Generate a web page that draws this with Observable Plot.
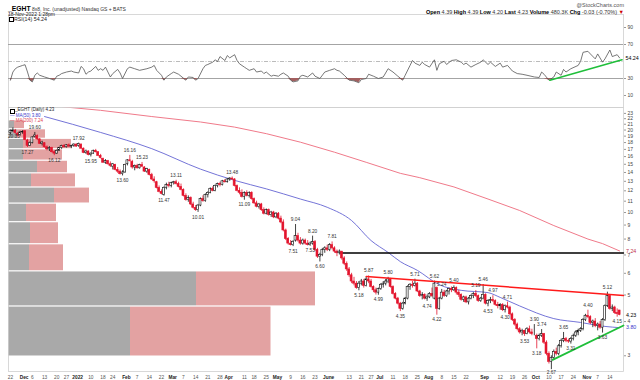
<!DOCTYPE html>
<html><head><meta charset="utf-8">
<script src="https://cdn.jsdelivr.net/npm/d3@7"></script>
<script src="https://cdn.jsdelivr.net/npm/@observablehq/plot@0.6"></script>
<style>
body{margin:0;background:#fff;font-family:"Liberation Sans",Arial,sans-serif;}
#wrap{position:relative;width:640px;height:380px;overflow:hidden;background:#fff;}
.abs{position:absolute;white-space:nowrap;line-height:1;}
.icon{position:absolute;width:3px;height:3.4px;border:0.6px solid #000;}
.layer{position:absolute;left:0;}
.layer svg{display:block;}
</style></head><body>
<div id="wrap">
  <div id="vbp" class="layer" style="top:100px"></div>
  <div id="price" class="layer" style="top:100px"></div>
  <div id="rsi" class="layer" style="top:14px"></div>
  <div class="abs" style="left:8px;top:5.5px;font-size:5px;color:#333"><b style="font-size:6.8px;color:#000">_EGHT</b> 8x8, Inc. (unadjusted) Nasdaq GS + BATS</div>
  <div class="abs" style="left:8px;top:11.5px;font-size:5px;color:#222">18-Nov-2022 1:28pm</div>
  <div class="icon" style="left:9px;top:17px"></div>
  <div class="abs" style="left:14px;top:16.5px;font-size:5.3px;color:#222">RSI(14) 54.24</div>
  <div class="abs" style="right:16px;top:2.5px;font-size:5.5px;color:#555">@StockCharts.com</div>
  <div class="abs" style="right:16px;top:9.5px;font-size:5.5px;color:#333"><b style="color:#000">Open</b> 4.39 <b style="color:#000">High</b> 4.39 <b style="color:#000">Low</b> 4.20 <b style="color:#000">Last</b> 4.23 <b style="color:#000">Volume</b> 480.3K <b style="color:#000">Chg</b> -0.03 (-0.70%) <span style="color:#c00">&#9660;</span></div>
  <div class="icon" style="left:10px;top:108.6px"></div>
  <div class="abs" style="left:15px;top:108.2px;font-size:4.5px;color:#222">_EGHT (Daily) 4.23</div>
  <div class="abs" style="left:10px;top:113.6px;font-size:4.5px;color:#3a3acc">&#8212; MA(50) 3.80</div>
  <div class="abs" style="left:10px;top:118.8px;font-size:4.5px;color:#e04050">&#8212; MA(200) 7.24</div>
</div>
<script>
// ---------- DATA ----------
const holidays = ["2021-11-25","2021-12-24","2022-01-17","2022-02-21","2022-04-15","2022-05-30","2022-06-20","2022-07-04","2022-09-05"];

const open = [
19.5,19.8,19.9,19.4,19.2,19.6,19.8,18.3,17.5,17.9,
18.9,19.0,18.5,17.8,17.9,17.3,17.0,17.2,16.6,16.4,
16.8,17.2,17.5,17.3,17.6,17.4,17.5,17.7,17.5,17.7,
17.1,16.5,16.7,16.2,16.4,16.8,16.6,16.1,15.7,15.2,
15.4,15.0,14.7,14.9,14.3,14.1,13.8,14.0,15.0,15.5,
15.3,14.6,14.8,14.5,14.9,14.6,14.1,14.3,13.7,13.2,
12.9,12.3,11.9,11.6,12.3,12.6,12.5,12.8,12.9,12.7,
12.4,12.1,11.5,11.1,11.3,10.7,10.4,10.2,10.6,11.2,
11.0,11.6,11.8,12.2,12.0,12.5,12.7,12.6,13.0,12.9,
13.2,13.3,13.2,12.5,12.0,11.8,11.4,11.8,11.5,11.8,
11.2,10.8,10.5,10.7,10.2,9.9,10.2,9.8,10.0,9.6,
9.9,9.5,9.2,8.6,8.0,7.7,7.6,7.9,8.2,7.9,
7.7,7.9,7.7,7.6,7.7,7.8,7.3,6.9,7.0,7.3,
7.4,7.3,7.6,7.4,7.2,7.1,7.2,6.8,6.5,6.2,
5.9,5.6,5.5,5.3,5.5,5.6,5.4,5.7,5.6,5.35,
5.2,5.1,5.25,5.45,5.5,5.6,5.7,5.35,5.05,4.85,
4.65,4.45,4.65,4.85,5.35,5.45,5.4,5.5,5.15,4.95,
5.0,4.85,4.9,5.05,4.85,5.3,4.45,4.85,5.1,4.95,
5.15,5.25,5.2,5.3,5.1,5.0,4.8,4.9,4.7,4.85,
4.95,5.05,4.95,4.75,4.85,5.0,4.65,4.75,4.8,4.75,
4.6,4.55,4.6,4.4,4.55,4.5,4.25,4.05,3.9,3.75,
3.65,3.7,3.6,3.75,3.65,3.6,3.55,3.45,3.55,3.6,
3.35,3.05,2.85,2.95,3.1,3.05,3.25,3.4,3.45,3.4,
3.38,3.45,3.55,3.65,3.7,3.75,4.05,4.2,4.15,3.95,
4.0,3.85,3.9,3.8,4.05,4.55,4.95,4.45,4.5,4.3,
4.39];
const high = [
20.0,20.35,20.1,19.6,19.8,19.9,19.9,18.5,18.1,18.9,
19.6,19.2,18.6,18.2,18.0,17.5,17.4,17.3,16.8,16.9,
17.3,17.6,17.7,17.7,17.8,17.6,17.8,17.8,17.92,17.8,
17.2,16.9,16.8,16.5,16.9,17.0,16.7,16.3,15.8,15.6,
15.5,15.3,15.1,15.0,14.6,14.3,14.2,15.0,15.6,16.16,
15.5,14.9,15.0,15.0,15.23,14.7,14.5,14.4,13.9,13.5,
13.0,12.5,12.1,12.4,12.8,12.9,12.9,13.0,13.11,12.9,
12.7,12.2,11.7,11.5,11.4,10.9,10.6,10.7,11.3,11.5,
11.7,11.9,12.3,12.4,12.6,12.8,12.9,13.1,13.2,13.3,
13.4,13.48,13.3,12.6,12.3,12.1,11.9,12.0,11.9,11.9,
11.3,11.0,10.8,10.8,10.4,10.3,10.3,10.1,10.1,10.0,
10.0,9.7,9.4,8.7,8.1,7.9,7.9,9.04,8.4,8.1,
8.0,8.0,7.9,7.8,8.2,7.9,7.4,7.1,7.4,7.5,
7.6,7.7,7.81,7.5,7.3,7.3,7.2,6.9,6.6,6.3,
6.0,5.8,5.6,5.6,5.7,5.7,5.8,5.87,5.7,5.4,
5.3,5.3,5.5,5.6,5.7,5.8,5.75,5.4,5.1,4.9,
4.7,4.7,4.9,5.4,5.5,5.6,5.71,5.55,5.2,5.1,
5.05,5.0,5.1,5.3,5.62,5.35,4.9,5.24,5.2,5.2,
5.3,5.35,5.4,5.35,5.2,5.05,4.95,4.95,4.9,5.0,
5.1,5.19,5.0,4.9,5.46,5.05,4.8,4.9,4.97,4.8,
4.7,4.65,4.65,4.6,4.71,4.55,4.3,4.1,3.95,3.8,
3.75,3.72,3.8,3.85,3.75,3.9,3.6,3.6,3.74,3.62,
3.4,3.1,3.0,3.15,3.2,3.3,3.45,3.65,3.5,3.45,
3.5,3.6,3.7,3.75,3.8,4.1,4.25,4.4,4.2,4.05,
4.1,3.95,4.0,4.1,4.6,5.12,5.0,4.6,4.55,4.45,
4.39];
const low = [
19.2,19.6,19.3,18.9,19.0,19.3,18.3,17.27,17.4,17.8,
18.7,18.3,17.7,17.5,17.2,16.8,16.7,16.5,16.12,16.3,
16.7,17.0,17.2,17.2,17.3,17.1,17.3,17.3,17.3,17.0,
16.4,16.3,16.1,15.95,16.3,16.5,16.0,15.7,15.1,15.0,
14.9,14.6,14.3,14.2,13.9,13.7,13.6,13.9,14.8,15.3,
14.4,14.2,14.4,14.4,14.6,14.0,13.9,13.6,13.1,12.8,
12.2,11.8,11.6,11.47,12.1,12.3,12.3,12.6,12.6,12.3,
12.0,11.4,11.0,10.9,10.6,10.3,10.1,10.01,10.5,10.9,
10.9,11.3,11.7,11.9,11.9,12.3,12.4,12.5,12.8,12.8,
13.0,13.1,12.4,11.9,11.6,11.3,11.09,11.4,11.3,11.1,
10.7,10.4,10.3,10.1,9.8,9.8,9.7,9.6,9.5,9.5,
9.4,9.1,8.5,7.9,7.6,7.55,7.51,7.8,7.8,7.6,
7.6,7.6,7.55,7.53,7.6,7.2,6.8,6.6,6.9,7.1,
7.2,7.2,7.3,7.1,6.9,7.0,6.7,6.4,6.1,5.8,
5.5,5.4,5.25,5.18,5.4,5.3,5.35,5.5,5.3,5.1,
5.0,4.99,5.2,5.3,5.4,5.5,5.3,5.0,4.8,4.6,
4.35,4.4,4.6,4.8,5.2,5.3,5.35,5.1,4.9,4.8,
4.8,4.74,4.85,4.9,4.8,4.22,4.4,4.8,4.9,4.9,
5.0,5.1,5.15,5.0,4.9,4.75,4.7,4.65,4.6,4.8,
4.85,4.9,4.7,4.7,4.8,4.6,4.53,4.65,4.7,4.55,
4.45,4.4,4.35,4.3,4.45,4.2,4.0,3.85,3.7,3.6,
3.55,3.53,3.58,3.6,3.55,3.55,3.18,3.4,3.5,3.3,
3.0,2.8,2.67,2.9,3.0,3.0,3.2,3.35,3.35,3.33,
3.31,3.4,3.5,3.55,3.65,3.7,4.0,4.1,3.9,3.8,
3.8,3.7,3.75,3.63,4.0,4.5,4.4,4.35,4.25,4.15,
4.2];
const close = [
19.8,19.9,19.5,19.1,19.6,19.7,18.4,17.5,17.9,18.8,
19.1,18.5,17.8,18.0,17.3,17.0,17.2,16.6,16.4,16.8,
17.2,17.5,17.3,17.6,17.4,17.5,17.7,17.4,17.8,17.1,
16.5,16.7,16.2,16.4,16.8,16.6,16.1,15.8,15.2,15.4,
15.0,14.8,15.0,14.3,14.1,13.8,14.0,14.9,15.5,15.4,
14.6,14.8,14.5,14.9,14.7,14.1,14.4,13.7,13.2,13.0,
12.3,11.9,11.7,12.3,12.6,12.5,12.8,12.9,12.7,12.4,
12.1,11.5,11.1,11.3,10.7,10.4,10.2,10.6,11.2,11.0,
11.6,11.8,12.2,12.0,12.5,12.7,12.6,13.0,12.9,13.2,
13.3,13.2,12.5,12.0,11.8,11.4,11.8,11.5,11.8,11.2,
10.8,10.5,10.7,10.2,9.9,10.2,9.8,10.0,9.6,9.9,
9.5,9.2,8.6,8.0,7.7,7.6,7.8,8.2,7.9,7.7,
7.9,7.7,7.6,7.7,7.8,7.3,6.9,7.0,7.3,7.4,
7.3,7.6,7.4,7.2,7.1,7.2,6.8,6.5,6.2,5.9,
5.6,5.5,5.3,5.5,5.6,5.4,5.7,5.6,5.35,5.2,
5.1,5.25,5.45,5.5,5.6,5.7,5.35,5.05,4.85,4.65,
4.45,4.65,4.85,5.35,5.45,5.4,5.5,5.15,4.95,5.0,
4.85,4.9,5.05,4.95,5.5,4.45,4.85,5.1,4.95,5.15,
5.25,5.2,5.3,5.1,5.0,4.8,4.9,4.7,4.85,4.95,
5.05,4.95,4.75,4.85,5.0,4.65,4.75,4.8,4.75,4.6,
4.55,4.6,4.4,4.55,4.5,4.25,4.05,3.9,3.75,3.65,
3.7,3.6,3.75,3.65,3.6,3.6,3.45,3.55,3.6,3.35,
3.05,2.85,2.95,3.1,3.05,3.25,3.4,3.45,3.4,3.38,
3.45,3.55,3.65,3.7,3.75,4.05,4.2,4.15,3.95,4.0,
3.85,3.9,3.8,4.05,4.55,4.95,4.45,4.5,4.3,4.26,
4.23];

// swing labels (trading-day index, price)
const hiDay = [1,10,28,49,54,68,91,117,124,132,147,155,166,174,177,182,191,194,198,204,215,218,227,237,245];
const hiVal = [20.35,19.60,17.92,16.16,15.23,13.11,13.48,9.04,8.20,7.81,5.87,5.80,5.71,5.62,5.24,5.40,5.19,5.46,4.97,4.71,3.90,3.74,3.65,4.40,5.12];
const loDay = [7,18,33,46,63,77,96,116,123,127,143,151,160,171,175,196,203,211,216,222,230,243,249];
const loVal = [17.27,16.12,15.95,13.60,11.47,10.01,11.09,7.51,7.53,6.60,5.18,4.99,4.35,4.74,4.22,4.53,4.30,3.53,3.18,2.67,3.31,3.63,4.15];

// moving averages
const ma50Day = [14,37,58,78,92,105,119,130,140,148,155,160,167,176,185,196,201,209,223,234,244,250];
const ma50Val = [22.4,19.6,17.1,14.4,13.1,12.2,11.2,10.45,9.35,7.9,7.15,6.62,6.15,5.45,5.2,5.1,4.9,4.56,4.1,3.97,3.84,3.80];
const ma200Day = [0,24,37,58,78,92,105,119,133,146,160,168,182,196,209,223,237,243,250];
const ma200Val = [25.6,24.2,23.6,22.4,21.4,20.5,19.4,18.06,16.6,15.25,13.9,13.4,12.4,11.2,10.17,8.96,8.0,7.7,7.24];

// RSI(14)
const rsiDay = [0,1,2,3,5,6,7,8,9,10,11,12,14,16,18,19,20,21,23,25,26,28,29,30,31,32,33,35,36,37,38,39,41,42,44,45,46,48,49,51,53,56,58,59,60,62,63,64,66,67,69,70,72,73,75,76,77,79,80,81,83,84,85,86,88,89,90,92,93,94,96,97,98,100,101,103,104,105,107,108,110,111,112,114,115,116,118,119,120,122,124,125,127,129,131,133,134,135,137,139,141,143,144,146,147,149,151,153,155,157,159,161,162,164,165,166,168,169,170,172,174,175,176,178,179,181,183,185,186,187,189,191,193,194,196,197,199,201,202,204,206,208,210,212,215,217,218,219,221,223,224,226,227,228,230,233,234,235,237,238,240,241,243,244,246,247,249,250];
const rsiVal = [28,37.6,41.5,43.4,45.4,46.2,37.6,28,26,33.8,36.5,33.8,31.8,30,28,32.7,33.8,35.8,37.6,38.8,37.6,36.5,44.2,41.5,35,37.6,38.8,44.2,39.6,41.5,39.6,43.4,31.8,35.8,40.7,36.5,30,41.5,43.4,41.5,39.6,41.5,43.4,45.4,39.6,33.8,28,31.8,35.8,37.6,35,32.7,28,31.8,31.2,28,30,41.5,45.4,46.5,49.2,52,50,55.8,51.2,57,54.3,58,51.2,47.3,43.4,41.5,39.6,41.5,37.6,38.8,35.8,37.6,32.7,33.8,32.7,35,36.5,32.7,28,26,27.2,32.7,33.8,31.8,36.5,32.7,30,37.6,39.6,41.5,39.6,38.8,33.8,28,27.2,25,28.8,30,35,32.7,30,31.8,41.5,37.6,32.7,28,33.8,45.4,51.2,48.1,45.4,49.2,46.5,43.4,52,39.6,47.3,50.3,46.5,51.2,52,49.2,46.5,48.1,43.4,46.5,49.2,52,46.5,49.2,44.2,48.1,43.4,45.4,38.8,35.8,35,33.8,31.8,31.2,37.6,35,28,31.8,37.6,33.8,40.7,37.6,41.5,45.4,50.3,60.8,62,58.9,53.1,58.9,49.2,53.1,63.5,55.8,58,54.24];

// drawn trend lines
const redLineDay = [146,251.6], redLineVal = [5.84,4.98];
const greenLineDay = [222.5,251.6], greenLineVal = [2.9,3.87];
const blackLineDay = [135.5,251.6], blackLineVal = [7.12,7.12];
const rsiGreenDay = [221.4,251], rsiGreenVal = [28,52];

// volume by price zones (relative volume units)
const zoneLo   = [2.98,4.54,6.10,7.66,9.22,10.78,12.34,13.90,15.46,17.02,18.58,20.14];
const zoneHi   = [4.54,6.10,7.66,9.22,10.78,12.34,13.90,15.46,17.02,18.58,20.14,21.70];
const zoneUp   = [24.4,37.6,4.2,4.4,3.6,9.2,4.6,5.8,3.0,3.0,1.8,1.2];
const zoneDown = [28.1,23.8,6.8,5.6,6.0,7.0,8.8,6.0,7.8,9.6,5.6,2.0];

// x-axis ticks
const tickDates = ["2021-11-22","2021-12-01","2021-12-06","2021-12-13","2021-12-20","2021-12-27","2022-01-03","2022-01-10","2022-01-18","2022-01-24","2022-02-01","2022-02-07","2022-02-14","2022-02-22","2022-03-01","2022-03-07","2022-03-14","2022-03-21","2022-03-28","2022-04-01","2022-04-11","2022-04-18","2022-04-25","2022-05-02","2022-05-09","2022-05-16","2022-05-23","2022-06-01","2022-06-13","2022-06-21","2022-06-27","2022-07-01","2022-07-11","2022-07-18","2022-07-25","2022-08-01","2022-08-08","2022-08-15","2022-08-22","2022-09-01","2022-09-12","2022-09-19","2022-09-26","2022-10-03","2022-10-10","2022-10-17","2022-10-24","2022-11-01","2022-11-07","2022-11-14"];
const tickText = ["22","Dec","6","13","20","27","2022","10","18","24","Feb","7","14","22","Mar","7","14","21","28","Apr","11","18","25","May","9","16","23","June","13","21","27","Jul","11","18","25","Aug","8","15","22","Sep","12","19","26","Oct","10","17","24","Nov","7","14"];
const priceTicks = [3,4,5,6,7,8,9,10,11,12,13,14,15,16,17,18,19,20,21,22,23];
const rsiTicks = [10,30,70,90];

// ---------- BUILD ----------
const days = [];
for (let t = Date.UTC(2021,10,22); t <= Date.UTC(2022,10,18); t += 864e5) {
  const d = new Date(t), wd = d.getUTCDay(), s = d.toISOString().slice(0,10);
  if (wd > 0 && wd < 6 && !holidays.includes(s)) days.push(s);
}
const dayIndex = new Map(days.map((s,i)=>[s,i]));
const RED = "#e3142d", BLK = "#111";
const candles = close.map((c,i)=>({i, o:open[i], h:high[i], l:low[i], c, col: (i>0 && c<close[i-1]) ? RED : BLK}));
const highs = hiDay.map((d,k)=>({d, v:hiVal[k]}));
const lows = loDay.map((d,k)=>({d, v:loVal[k]}));
const ma50 = ma50Day.map((d,k)=>({d, v:ma50Val[k]}));
const ma200 = ma200Day.map((d,k)=>({d, v:ma200Val[k]}));
const rsi = rsiDay.map((d,k)=>({d, v:rsiVal[k]}));
const pairs = (a,b)=>a.map((d,k)=>({d, v:b[k]}));
const zones = zoneLo.map((lo,k)=>({lo, hi:zoneHi[k], up:zoneUp[k], down:zoneDown[k]}));
const ticks = tickDates.map((s,k)=>({i: dayIndex.get(s), t: tickText[k], bold: /[A-Za-z]/.test(tickText[k]) || tickText[k]==="2022"}));

const FONT = "Liberation Sans, Arial, sans-serif";
const xScale = {type:"linear", domain:[-0.8, 251.6], axis:null};
const yPrice = {type:"log", domain:[2.629, 24.17], axis:null};
const common = {width:640, marginLeft:8, marginRight:17, color:{type:"identity"}};

// Volume-by-price layer
const vbpPlot = Plot.plot({
  ...common, height:280, marginTop:7, marginBottom:9,
  x:{domain:[0,123], axis:null}, y:yPrice,
  style:{background:"white", fontFamily:FONT},
  marks:[
    Plot.rect(zones, {x1:0, x2:"up", y1:"lo", y2:"hi", fill:"#a9a9a9", insetTop:0.6, insetBottom:0.6}),
    Plot.rect(zones, {x1:"up", x2:d=>d.up+d.down, y1:"lo", y2:"hi", fill:"#e3a2a2", insetTop:0.6, insetBottom:0.6})
  ]
});
document.getElementById("vbp").appendChild(vbpPlot);

// Price layer
const pricePlot = Plot.plot({
  ...common, height:280, marginTop:7, marginBottom:9,
  x:xScale, y:yPrice,
  style:{background:"transparent", fontFamily:FONT, overflow:"visible"},
  marks:[
    Plot.frame({stroke:"#cfcfcf", strokeWidth:0.8}),
    Plot.line(ma200, {x:"d", y:"v", stroke:"#f07a8a", strokeWidth:1, clip:true}),
    Plot.line(ma50, {x:"d", y:"v", stroke:"#6464d2", strokeWidth:0.9, curve:"monotone-x"}),
    Plot.line(pairs(blackLineDay, blackLineVal), {x:"d", y:"v", stroke:"#000", strokeWidth:1.4}),
    Plot.ruleX(candles, {x:"i", y1:"l", y2:"h", stroke:"col", strokeWidth:0.8}),
    Plot.rect(candles, {x1:d=>d.i-0.4, x2:d=>d.i+0.4, y1:"o", y2:"c", fill:d=>d.c<d.o ? d.col : "#fff", stroke:"col", strokeWidth:0.6}),
    Plot.line(pairs(redLineDay, redLineVal), {x:"d", y:"v", stroke:"#ff1a1a", strokeWidth:1.5}),
    Plot.line(pairs(greenLineDay, greenLineVal), {x:"d", y:"v", stroke:"#1fbf3a", strokeWidth:1.8}),
    Plot.text(highs.filter(d=>d.d>=5), {x:"d", y:"v", text:d=>d.v.toFixed(2), dy:-5, fontSize:4.8, fill:"#333", ariaLabel:"pivot"}),
    Plot.text(highs.filter(d=>d.d<5), {x:"d", y:"v", text:d=>d.v.toFixed(2), dy:8, dx:1, fontSize:4.8, fill:"#333", ariaLabel:"pivot"}),
    Plot.text(lows.filter(d=>d.v>=2.8), {x:"d", y:"v", text:d=>d.v.toFixed(2), dy:4.6, fontSize:4.8, fill:"#333", ariaLabel:"pivot"}),
    Plot.text(lows.filter(d=>d.v<2.8), {x:"d", y:"v", text:d=>d.v.toFixed(2), dy:2.6, fontSize:4.8, fill:"#333", ariaLabel:"pivot"}),
    Plot.axisY({anchor:"right", ticks:priceTicks, tickFormat:d=>String(d), tickSize:2, tickPadding:2, fontSize:5, stroke:"#999", fill:"#444", label:null}),
    Plot.text(ticks.filter(d=>!d.bold), {x:"i", text:"t", frameAnchor:"bottom", dy:7.2, fontSize:4.8, fill:"#555"}),
    Plot.text(ticks.filter(d=>d.bold), {x:"i", text:"t", frameAnchor:"bottom", dy:7.2, dx:-1, fontSize:4.8, fontWeight:"bold", fill:"#222"}),
    Plot.text([7.24], {x:251.6, y:d=>d, text:d=>d.toFixed(2), textAnchor:"start", dx:2.5, fontSize:5.3, fill:"#c0304a", ariaLabel:"tag-ma200"}),
    Plot.text([4.23], {x:251.6, y:d=>d, text:d=>d.toFixed(2), textAnchor:"start", dx:2.5, fontSize:5.3, fill:"#000", ariaLabel:"tag-last"}),
    Plot.text([3.80], {x:251.6, y:d=>d, text:d=>d.toFixed(2), textAnchor:"start", dx:2.5, fontSize:5.3, fill:"#3a3acc", ariaLabel:"tag-ma50"})
  ]
});
document.getElementById("price").appendChild(pricePlot);

// RSI layer
const rsiPlot = Plot.plot({
  ...common, height:93, marginTop:0, marginBottom:0,
  x:xScale, y:{domain:[-4.12, 105.3], axis:null},
  style:{background:"transparent", fontFamily:FONT, overflow:"visible"},
  marks:[
    Plot.frame({stroke:"#cfcfcf", strokeWidth:0.8}),
    Plot.ruleY([70,30], {stroke:"#9a9a9a", strokeWidth:0.9}),
    Plot.ruleY([50], {stroke:"#aaa", strokeWidth:0.8, strokeDasharray:"4,1.5,1,1.5"}),
    Plot.areaY(rsi, {x:"d", y1:30, y2:d=>Math.min(d.v,30), fill:"#a35f5f"}),
    Plot.line(rsi, {x:"d", y:"v", stroke:"#555", strokeWidth:0.8}),
    Plot.line(pairs(rsiGreenDay, rsiGreenVal), {x:"d", y:"v", stroke:"#1fbf3a", strokeWidth:1.6}),
    Plot.axisY({anchor:"right", ticks:rsiTicks, tickSize:2, tickPadding:2, fontSize:5, stroke:"#999", fill:"#444", label:null}),
    Plot.text([54.24], {x:251.6, y:d=>d, text:d=>d.toFixed(2), textAnchor:"start", dx:2, fontSize:5.3, fill:"#000", ariaLabel:"tag-rsi"})
  ]
});
document.getElementById("rsi").appendChild(rsiPlot);

// boxes behind labels
function boxify(svg, label, stroke, pad, sw) {
  d3.select(svg).selectAll(`g[aria-label="${label}"] text`).each(function(){
    const b = this.getBBox();
    const r = document.createElementNS("http://www.w3.org/2000/svg","rect");
    r.setAttribute("x", b.x - pad); r.setAttribute("y", b.y - 0.3);
    r.setAttribute("width", b.width + 2*pad); r.setAttribute("height", b.height + 0.6);
    r.setAttribute("fill", "#fff"); r.setAttribute("fill-opacity", "0.9");
    r.setAttribute("stroke", stroke); r.setAttribute("stroke-width", sw); r.setAttribute("rx", 1.2);
    const tr = this.getAttribute("transform"); if (tr) r.setAttribute("transform", tr);
    this.parentNode.insertBefore(r, this);
  });
}
boxify(pricePlot, "pivot", "#c8c8c8", 1, 0.4);
boxify(pricePlot, "tag-ma200", "#e8607a", 1.2, 0.7);
boxify(pricePlot, "tag-last", "#000", 1.2, 0.7);
boxify(pricePlot, "tag-ma50", "#3a3acc", 1.2, 0.7);
boxify(rsiPlot, "tag-rsi", "#333", 1.2, 0.7);
</script>
</body></html>
